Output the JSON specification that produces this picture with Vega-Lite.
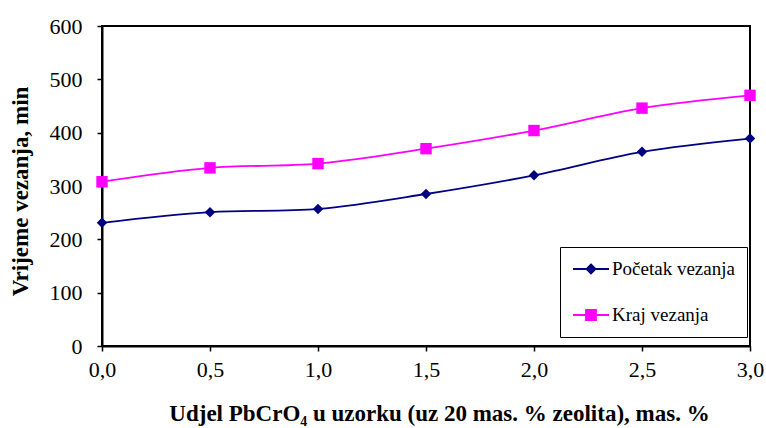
{
  "$schema": "https://vega.github.io/schema/vega-lite/v6.json",
  "width": 648,
  "height": 320,
  "autosize": {"type": "none"},
  "padding": {"left": 102, "top": 26, "right": 16, "bottom": 82},
  "background": "white",
  "config": {
    "font": "Liberation Serif",
    "view": {"stroke": "black", "strokeWidth": 2},
    "axis": {
      "domainColor": "black",
      "domainWidth": 2,
      "tickColor": "black",
      "tickWidth": 1.5,
      "tickSize": 5,
      "grid": false,
      "labelFont": "Liberation Serif",
      "labelFontSize": 22,
      "labelColor": "black",
      "labelFlush": false,
      "labelOverlap": false,
      "titleFont": "Liberation Serif",
      "titleFontSize": 23,
      "titleFontWeight": "bold",
      "titleColor": "black"
    },
    "legend": {"labelFont": "Liberation Serif"}
  },
  "data": {
    "values": [
      {"x": 0.0, "t": 231, "s": "Početak vezanja"},
      {"x": 0.5, "t": 251, "s": "Početak vezanja"},
      {"x": 1.0, "t": 257, "s": "Početak vezanja"},
      {"x": 1.5, "t": 285, "s": "Početak vezanja"},
      {"x": 2.0, "t": 320, "s": "Početak vezanja"},
      {"x": 2.5, "t": 364, "s": "Početak vezanja"},
      {"x": 3.0, "t": 389, "s": "Početak vezanja"},
      {"x": 0.0, "t": 308, "s": "Kraj vezanja"},
      {"x": 0.5, "t": 334, "s": "Kraj vezanja"},
      {"x": 1.0, "t": 342, "s": "Kraj vezanja"},
      {"x": 1.5, "t": 370, "s": "Kraj vezanja"},
      {"x": 2.0, "t": 404, "s": "Kraj vezanja"},
      {"x": 2.5, "t": 446, "s": "Kraj vezanja"},
      {"x": 3.0, "t": 470, "s": "Kraj vezanja"}
    ]
  },
  "encoding": {
    "x": {
      "field": "x",
      "type": "quantitative",
      "scale": {"domain": [0, 3], "nice": false},
      "axis": {
        "values": [0, 0.5, 1, 1.5, 2, 2.5, 3],
        "labelExpr": "replace(format(datum.value, '.1f'), '.', ',')",
        "labelPadding": 8,
        "title": "Udjel PbCrO₄ u uzorku (uz 20 mas. % zeolita), mas. %",
        "titlePadding": 22,
        "titleX": 337
      }
    },
    "y": {
      "field": "t",
      "type": "quantitative",
      "scale": {"domain": [0, 600], "nice": false},
      "axis": {
        "values": [0, 100, 200, 300, 400, 500, 600],
        "labelPadding": 15,
        "title": "Vrijeme vezanja, min",
        "titlePadding": 17,
        "titleY": 165
      }
    }
  },
  "resolve": {"legend": {"color": "independent"}},
  "layer": [
    {
      "mark": {"type": "line", "interpolate": "catmull-rom", "strokeWidth": 1.8},
      "encoding": {
        "color": {
          "field": "s",
          "type": "nominal",
          "scale": {"domain": ["Početak vezanja", "Kraj vezanja"], "range": ["#000080", "#FF00FF"]},
          "legend": {
            "title": null,
            "orient": "none",
            "legendX": 458,
            "legendY": 221,
            "direction": "vertical",
            "fillColor": "white",
            "strokeColor": "black",
            "padding": 12,
            "rowPadding": 26,
            "clipHeight": 20,
            "symbolSize": 400,
            "symbolOffset": 8,
            "symbolStrokeWidth": 1.8,
            "labelFont": "Liberation Serif",
            "labelFontSize": 19,
            "labelColor": "black",
            "labelOffset": 10,
            "labelLimit": 220,
            "encode": {
              "symbols": {
                "update": {
                  "shape": {"signal": "datum.value === 'Početak vezanja' ? 'M-1.8,0H1.8M0,-0.45L0.45,0L0,0.45L-0.45,0Z' : 'M-1.8,0H1.8M-0.5,-0.5H0.5V0.5H-0.5Z'"},
                  "fill": {"signal": "datum.value === 'Početak vezanja' ? '#000080' : '#FF00FF'"},
                  "stroke": {"signal": "datum.value === 'Početak vezanja' ? '#000080' : '#FF00FF'"},
                  "opacity": {"value": 1},
                  "fillOpacity": {"value": 1},
                  "strokeWidth": {"value": 1.8}
                }
              }
            }
          }
        }
      }
    },
    {
      "mark": {"type": "point", "filled": true, "opacity": 1},
      "encoding": {
        "color": {
          "field": "s",
          "type": "nominal",
          "scale": {"domain": ["Početak vezanja", "Kraj vezanja"], "range": ["#000080", "#FF00FF"]},
          "legend": null
        },
        "shape": {
          "field": "s",
          "type": "nominal",
          "scale": {"domain": ["Početak vezanja", "Kraj vezanja"], "range": ["diamond", "square"]},
          "legend": null
        },
        "size": {
          "field": "s",
          "type": "nominal",
          "scale": {"domain": ["Početak vezanja", "Kraj vezanja"], "range": [110, 130]},
          "legend": null
        }
      }
    }
  ]
}
